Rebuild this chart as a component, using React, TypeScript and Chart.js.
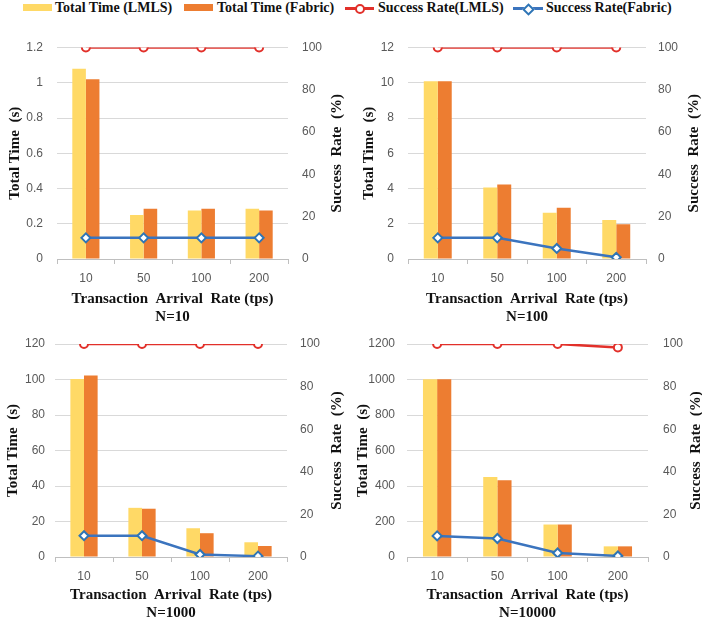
import React, { useEffect, useRef } from 'react';
import { Chart, registerables } from 'chart.js';

Chart.register(...registerables);

// ---------- data ----------
const categories = ['10', '50', '100', '200'];

const n10TimeLmls = [1.08, 0.25, 0.275, 0.285];
const n10TimeFabric = [1.02, 0.285, 0.285, 0.275];
const n10RateLmls = [100, 100, 100, 100];
const n10RateFabric = [10, 10, 10, 10];

const n100TimeLmls = [10.08, 4.06, 2.63, 2.21];
const n100TimeFabric = [10.08, 4.22, 2.91, 1.97];
const n100RateLmls = [100, 100, 100, 100];
const n100RateFabric = [10, 10, 5, 0.8];

const n1000TimeLmls = [100.3, 27.7, 16.2, 8.3];
const n1000TimeFabric = [102.2, 27.2, 13.4, 6.2];
const n1000RateLmls = [100, 100, 100, 100];
const n1000RateFabric = [10, 10, 1.2, 0.4];

const n10000TimeLmls = [1001, 451, 183, 60];
const n10000TimeFabric = [1001, 432, 183, 60];
const n10000RateLmls = [100, 100, 100, 98.4];
const n10000RateFabric = [9.9, 8.7, 1.9, 0.5];

const panelLabels = ['N=10', 'N=100', 'N=1000', 'N=10000'];
const timeAxisMax = [1.2, 12, 120, 1200];
const rateAxisMax = 100;
const rateAxisStep = 20;

const legendLabels = ['Total Time (LMLS)', 'Total Time (Fabric)', 'Success Rate(LMLS)', 'Success Rate(Fabric)'];
const xTitle = 'Transaction  Arrival  Rate (tps)';
const leftTitle = 'Total Time  (s)';
const rightTitle = 'Success  Rate  (%)';

// ---------- styles ----------
const YELLOW = '#FFD966';
const ORANGE = '#ED7D31';
const RED = '#E2302A';
const BLUE = '#3B74BE';
const TICK_FONT = { family: '"Liberation Sans", Arial, sans-serif', size: 12 };
const TITLE_FONT = { family: '"Liberation Serif", "Times New Roman", serif', size: 15, weight: 'bold' as const, lineHeight: 1.2 };

const CW = 351;
const CH = 300;

type Layout = {
  pageLeft: number; pageTop: number;
  areaLeft: number; areaRight: number; areaTop: number; areaBottom: number;
  leftPad: number; leftTitlePad: number; rightPad: number; rightTitleX: number; xTitlePadBottom: number;
};

const layouts: Layout[] = [
  { pageLeft: 0, pageTop: 30, areaLeft: 57, areaRight: 288, areaTop: 17.5, areaBottom: 229, leftPad: 14, leftTitlePad: 6, rightPad: 14, rightTitleX: 337, xTitlePadBottom: 4 },
  { pageLeft: 351, pageTop: 30, areaLeft: 57, areaRight: 295, areaTop: 17.5, areaBottom: 229, leftPad: 14, leftTitlePad: 9, rightPad: 12, rightTitleX: 343, xTitlePadBottom: 4 },
  { pageLeft: 0, pageTop: 325, areaLeft: 55, areaRight: 287, areaTop: 19, areaBottom: 232, leftPad: 10, leftTitlePad: 4, rightPad: 13, rightTitleX: 337, xTitlePadBottom: 3 },
  { pageLeft: 351, pageTop: 325, areaLeft: 56, areaRight: 297, areaTop: 19, areaBottom: 232, leftPad: 12, leftTitlePad: 3, rightPad: 15, rightTitleX: 345, xTitlePadBottom: 3 },
];

const rightTitlePlugin = {
  id: 'rightTitle',
  afterDraw(chart: any, _args: any, opts: any) {
    const { ctx, chartArea } = chart;
    ctx.save();
    ctx.translate(opts.x, (chartArea.top + chartArea.bottom) / 2);
    ctx.rotate(-Math.PI / 2);
    ctx.font = `bold ${TITLE_FONT.size}px ${TITLE_FONT.family}`;
    ctx.fillStyle = '#111';
    ctx.textAlign = 'center';
    ctx.textBaseline = 'middle';
    ctx.fillText(opts.text, 0, 0);
    ctx.restore();
  },
};

type PanelProps = {
  timeLmls: number[]; timeFabric: number[]; rateLmls: number[]; rateFabric: number[];
  yMax: number; label: string; layout: Layout;
};

function Panel({ timeLmls, timeFabric, rateLmls, rateFabric, yMax, label, layout }: PanelProps) {
  const ref = useRef<HTMLCanvasElement>(null);
  useEffect(() => {
    if (!ref.current) return;
    const L = layout;
    const chart = new Chart(ref.current, {
      type: 'bar',
      data: {
        labels: categories,
        datasets: [
          { type: 'bar', label: legendLabels[0], data: timeLmls, backgroundColor: YELLOW, yAxisID: 'y', order: 2, categoryPercentage: 0.47, barPercentage: 1 } as any,
          { type: 'bar', label: legendLabels[1], data: timeFabric, backgroundColor: ORANGE, yAxisID: 'y', order: 2, categoryPercentage: 0.47, barPercentage: 1 } as any,
          { type: 'line', label: legendLabels[2], data: rateLmls, yAxisID: 'y1', order: 1, borderColor: RED, borderWidth: 2.5, tension: 0, pointStyle: 'circle', pointRadius: 4, pointBackgroundColor: '#fff', pointBorderColor: RED, pointBorderWidth: 2 } as any,
          { type: 'line', label: legendLabels[3], data: rateFabric, yAxisID: 'y1', order: 1, borderColor: BLUE, borderWidth: 2.5, tension: 0, pointStyle: 'rectRot', pointRadius: 4.5, pointBackgroundColor: '#fff', pointBorderColor: '#2E75B6', pointBorderWidth: 2 } as any,
        ],
      },
      options: {
        responsive: false,
        animation: false,
        devicePixelRatio: 1,
        layout: { padding: { top: L.areaTop, left: 0, right: 0, bottom: 0 } },
        plugins: {
          legend: { display: false },
          tooltip: { enabled: false },
          rightTitle: { x: L.rightTitleX, text: rightTitle },
        } as any,
        scales: {
          x: {
            offset: true,
            grid: { offset: true, drawOnChartArea: false, drawTicks: true, tickLength: 5, color: '#BFBFBF' },
            border: { color: '#BFBFBF' },
            ticks: { font: TICK_FONT, color: '#595959', padding: 7, maxRotation: 0 },
            title: { display: true, text: [xTitle, label], font: TITLE_FONT, color: '#111', padding: { top: 0, bottom: L.xTitlePadBottom } },
            afterFit: (s: any) => { s.height = CH - L.areaBottom; },
          },
          y: {
            position: 'left',
            min: 0,
            max: yMax,
            ticks: { stepSize: yMax / 6, font: TICK_FONT, color: '#595959', padding: L.leftPad, callback: (v: any) => String(Number(Number(v).toFixed(3))) },
            grid: { color: '#D9D9D9', drawTicks: false },
            border: { display: false },
            title: { display: true, text: leftTitle, font: TITLE_FONT, color: '#111', padding: { top: L.leftTitlePad, bottom: 0 } },
            afterFit: (s: any) => { s.width = L.areaLeft; s.paddingTop = 0; s.paddingBottom = 0; },
          },
          y1: {
            position: 'right',
            min: 0,
            max: rateAxisMax,
            ticks: { stepSize: rateAxisStep, font: TICK_FONT, color: '#595959', padding: L.rightPad },
            grid: { drawOnChartArea: false, drawTicks: false },
            border: { display: false },
            afterFit: (s: any) => { s.width = CW - L.areaRight; s.paddingTop = 0; s.paddingBottom = 0; },
          },
        },
      } as any,
      plugins: [rightTitlePlugin],
    });
    return () => chart.destroy();
  }, []);
  return (
    <canvas
      ref={ref}
      width={CW}
      height={CH}
      style={{ position: 'absolute', left: layout.pageLeft, top: layout.pageTop, width: CW, height: CH }}
    />
  );
}

const legendTextStyle: React.CSSProperties = {
  position: 'absolute', top: 0, height: 16, lineHeight: '16px', whiteSpace: 'pre',
  fontFamily: '"Liberation Serif", "Times New Roman", serif', fontWeight: 'bold', fontSize: 14, color: '#111',
};

function Legend() {
  return (
    <>
      <div style={{ position: 'absolute', left: 23, top: 4, width: 29, height: 7, background: YELLOW }} />
      <div style={{ ...legendTextStyle, left: 55 }}>{legendLabels[0]}</div>
      <div style={{ position: 'absolute', left: 184, top: 4, width: 29, height: 7, background: ORANGE }} />
      <div style={{ ...legendTextStyle, left: 217 }}>{legendLabels[1]}</div>
      <div style={{ position: 'absolute', left: 345, top: 7, width: 29, height: 3, background: RED }} />
      <div style={{ position: 'absolute', left: 355, top: 4, width: 6, height: 6, borderRadius: '50%', border: `2px solid ${RED}`, background: '#fff' }} />
      <div style={{ ...legendTextStyle, left: 378 }}>{legendLabels[2]}</div>
      <div style={{ position: 'absolute', left: 513, top: 7, width: 30, height: 3, background: BLUE }} />
      <div style={{ position: 'absolute', left: 524, top: 4.5, width: 5, height: 5, transform: 'rotate(45deg)', border: `2px solid #2E75B6`, background: '#fff' }} />
      <div style={{ ...legendTextStyle, left: 546 }}>{legendLabels[3]}</div>
    </>
  );
}

export default function App() {
  return (
    <div style={{ position: 'absolute', left: 0, top: 0, width: 702, height: 625, background: '#fff', overflow: 'hidden' }}>
      <Legend />
      <Panel timeLmls={n10TimeLmls} timeFabric={n10TimeFabric} rateLmls={n10RateLmls} rateFabric={n10RateFabric} yMax={timeAxisMax[0]} label={panelLabels[0]} layout={layouts[0]} />
      <Panel timeLmls={n100TimeLmls} timeFabric={n100TimeFabric} rateLmls={n100RateLmls} rateFabric={n100RateFabric} yMax={timeAxisMax[1]} label={panelLabels[1]} layout={layouts[1]} />
      <Panel timeLmls={n1000TimeLmls} timeFabric={n1000TimeFabric} rateLmls={n1000RateLmls} rateFabric={n1000RateFabric} yMax={timeAxisMax[2]} label={panelLabels[2]} layout={layouts[2]} />
      <Panel timeLmls={n10000TimeLmls} timeFabric={n10000TimeFabric} rateLmls={n10000RateLmls} rateFabric={n10000RateFabric} yMax={timeAxisMax[3]} label={panelLabels[3]} layout={layouts[3]} />
    </div>
  );
}
